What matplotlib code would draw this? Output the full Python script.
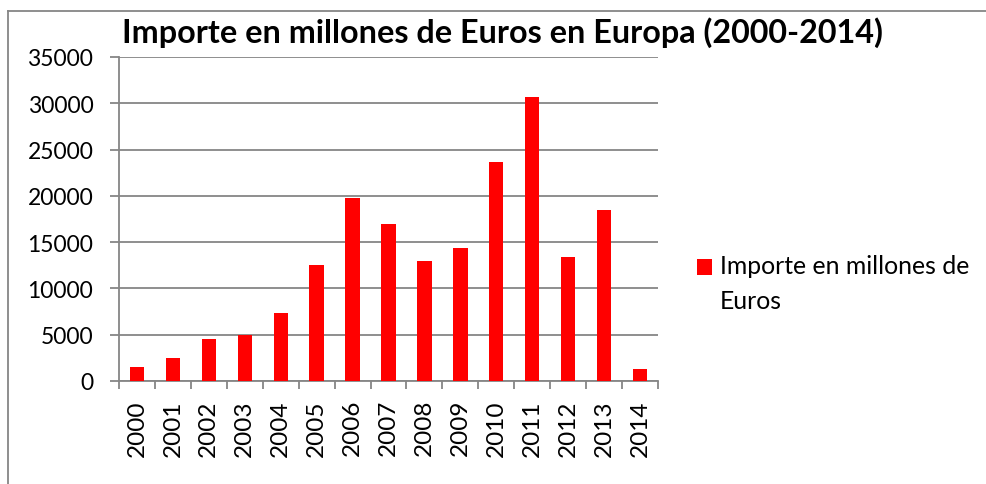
import matplotlib
matplotlib.use("Agg")
import matplotlib.pyplot as plt
from matplotlib.lines import Line2D
from matplotlib.patches import Rectangle
from matplotlib.legend_handler import HandlerPatch

years = ['2000', '2001', '2002', '2003', '2004', '2005', '2006', '2007',
         '2008', '2009', '2010', '2011', '2012', '2013', '2014']
importe = [1510, 2520, 4530, 4960, 7340, 12550, 19820, 16910,
           12950, 14390, 23700, 30680, 13350, 18420, 1260]
serie = 'Importe en millones de\nEuros'
titulo = 'Importe en millones de Euros en Europa (2000-2014)'

plt.rcParams['font.family'] = ['Lato', 'DejaVu Sans']

W, H = 987, 485
fig = plt.figure(figsize=(W / 100, H / 100), dpi=100)
ax = fig.add_axes([119 / W, 1 - 382 / H, (658 - 119) / W, (382 - 58) / H])

x = list(range(len(years)))
barras = ax.bar(x, importe, width=0.4, color='#ff0000', label=serie, zorder=3)

ax.set_xlim(-0.5, len(years) - 0.5)
ax.set_ylim(0, 35000)
ax.set_yticks(range(0, 35001, 5000))
ax.yaxis.grid(True, color='#868686', linewidth=1.3, zorder=0)
ax.set_axisbelow(True)

ax.set_xticks(x)
ax.set_xticklabels(years, rotation=90, fontsize=17.5)
ax.set_xticks([i - 0.5 for i in range(len(years) + 1)], minor=True)
ax.tick_params(axis='x', which='major', length=0, pad=13)
ax.tick_params(axis='x', which='minor', length=6, width=1.3, color='#868686')
ax.tick_params(axis='y', length=6.5, width=1.3, color='#868686', labelsize=16.5, pad=12)

for s in ['top', 'right']:
    ax.spines[s].set_visible(False)
for s in ['left', 'bottom']:
    ax.spines[s].set_color('#868686')
    ax.spines[s].set_linewidth(1.3)

fig.text(503 / W, 1 - 33 / H, titulo, ha='center', va='center',
         fontsize=23.3, fontweight='bold')


# cuadrado de la leyenda alineado con la primera linea del texto
def cuadro(legend, orig_handle, xdescent, ydescent, width, height, fontsize):
    return Rectangle((-xdescent, -ydescent + 12.5), width, height)


leg = ax.legend(handles=[barras.patches[0]], labels=[serie],
                loc='upper left', bbox_to_anchor=(697 / W, 1 - 255 / H),
                bbox_transform=fig.transFigure, frameon=False,
                borderpad=0, borderaxespad=0,
                handlelength=0.62, handleheight=0.62, handletextpad=0.3,
                prop={'size': 17.8},
                handler_map={Rectangle: HandlerPatch(patch_func=cuadro)})
for t in leg.get_texts():
    t.set_linespacing(1.65)

# borde del area del grafico (recortado a la derecha y abajo)
fig.add_artist(Line2D([8 / W, 8 / W], [0, 1 - 12 / H], color='#868686', lw=1.3))
fig.add_artist(Line2D([8 / W, 1], [1 - 12 / H, 1 - 12 / H], color='#868686', lw=1.3))

fig.savefig('out.png', dpi=100)
